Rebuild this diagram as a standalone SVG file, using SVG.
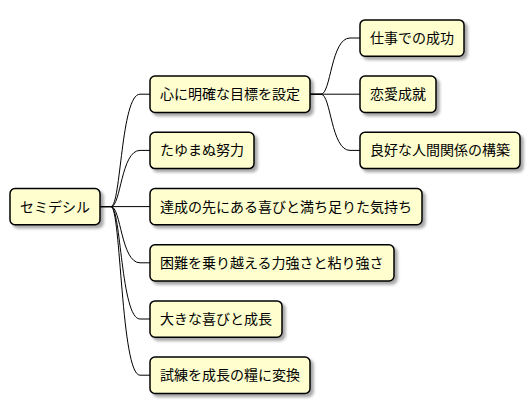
<svg xmlns="http://www.w3.org/2000/svg" width="530" height="415" viewBox="0 0 530 415">
<defs>
<filter id="sh" x="-20%" y="-20%" width="150%" height="160%">
<feGaussianBlur in="SourceAlpha" stdDeviation="1.5"/>
<feOffset dx="3" dy="3" result="b"/>
<feComponentTransfer><feFuncA type="linear" slope="0.35"/></feComponentTransfer>
<feMerge><feMergeNode/><feMergeNode in="SourceGraphic"/></feMerge>
</filter>
<style>
.n rect{fill:#FEFECE;stroke:#000;stroke-width:1.5;filter:url(#sh)}
.n text{font-family:"Noto Sans CJK JP","Noto Sans",sans-serif;font-size:14px;fill:#000}
.c path{fill:none;stroke:#000;stroke-width:1}
</style>
</defs>
<rect width="530" height="415" fill="#fff"/>
<g class="c" id="connectors">
<path d="M100,206.6 L111,206.6 C121,206.6 121,94.2 140,94.2 L150,94.2"/>
<path d="M100,206.6 L111,206.6 C121,206.6 121,150.4 140,150.4 L150,150.4"/>
<path d="M100,206.6 L150,206.6"/>
<path d="M100,206.6 L111,206.6 C121,206.6 121,262.8 140,262.8 L150,262.8"/>
<path d="M100,206.6 L111,206.6 C121,206.6 121,319 140,319 L150,319"/>
<path d="M100,206.6 L111,206.6 C121,206.6 121,375.2 140,375.2 L150,375.2"/>
<path d="M310,94.2 L321,94.2 C331,94.2 331,38 350,38 L360,38"/>
<path d="M310,94.2 L360,94.2"/>
<path d="M310,94.2 L321,94.2 C331,94.2 331,150.4 350,150.4 L360,150.4"/>
</g>
<g class="n" id="root"><rect x="10" y="188.5" width="90" height="36.3" rx="5"/><text x="20" y="211.6">セミデシル</text></g>
<g class="n" id="n1"><rect x="150" y="76.1" width="160" height="36.3" rx="5"/><text x="160" y="99.2">心に明確な目標を設定</text></g>
<g class="n" id="n1a"><rect x="360" y="19.9" width="104" height="36.3" rx="5"/><text x="370" y="43">仕事での成功</text></g>
<g class="n" id="n1b"><rect x="360" y="76.1" width="76" height="36.3" rx="5"/><text x="370" y="99.2">恋愛成就</text></g>
<g class="n" id="n1c"><rect x="360" y="132.3" width="160" height="36.3" rx="5"/><text x="370" y="155.4">良好な人間関係の構築</text></g>
<g class="n" id="n2"><rect x="150" y="132.3" width="104" height="36.3" rx="5"/><text x="160" y="155.4">たゆまぬ努力</text></g>
<g class="n" id="n3"><rect x="150" y="188.5" width="272" height="36.3" rx="5"/><text x="160" y="211.6">達成の先にある喜びと満ち足りた気持ち</text></g>
<g class="n" id="n4"><rect x="150" y="244.7" width="244" height="36.3" rx="5"/><text x="160" y="267.8">困難を乗り越える力強さと粘り強さ</text></g>
<g class="n" id="n5"><rect x="150" y="300.9" width="132" height="36.3" rx="5"/><text x="160" y="324">大きな喜びと成長</text></g>
<g class="n" id="n6"><rect x="150" y="357.1" width="160" height="36.3" rx="5"/><text x="160" y="380.2">試練を成長の糧に変換</text></g>
</svg>
